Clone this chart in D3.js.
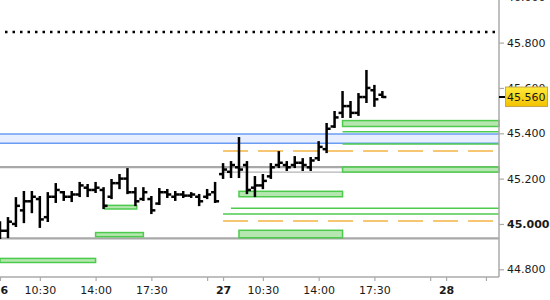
<!DOCTYPE html>
<html lang="en">
<head>
    <meta charset="UTF-8">
    <title>Bar chart with levels</title>
    <script src="https://cdn.jsdelivr.net/npm/d3@7/dist/d3.min.js"></script>
    <style>
        body{
            margin: 0;
            background: #fff;
            font-family: "DejaVu Sans", sans-serif;
        }
        svg{
            display: block;
        }
        .bar{
            stroke: #000;
            stroke-width: 2.5px;
        }
        .axis-line{
            stroke: #aaa;
            stroke-width: 1.5px;
        }
        .tick-label{
            font-size: 11px;
            fill: #1a1a1a;
        }
        .greenzone{
            fill: #b6e7b0;
            stroke: #4ccb4c;
            stroke-width: 1.5px;
        }
        .greenline{
            stroke: #4ccb4c;
            stroke-width: 1.5px;
        }
        .orangeline{
            stroke: #f4b446;
            stroke-width: 1.5px;
            stroke-dasharray: 25,10;
        }
    </style>
</head>

<body>
    <script>
        // step 1 the data
        const barTime = [
            "26 08:00","26 08:30","26 09:00","26 09:30","26 10:00","26 10:30","26 11:00",
            "26 11:30","26 12:00","26 12:30","26 13:00","26 13:30","26 14:00","26 14:30",
            "26 15:00","26 15:30","26 16:00","26 16:30","26 17:00","26 17:30","26 18:00",
            "26 18:30","26 19:00","26 19:30","26 20:00","26 20:30","26 21:00","26 21:30",
            "27 08:00","27 08:30","27 09:00","27 09:30","27 10:00","27 10:30","27 11:00",
            "27 11:30","27 12:00","27 12:30","27 13:00","27 13:30","27 14:00","27 14:30",
            "27 15:00","27 15:30","27 16:00","27 16:30","27 17:00","27 17:30","27 18:00"
        ];
        const barOpen = [
            44.990, 44.970, 45.000, 45.060, 45.100, 45.110, 45.030,
            45.120, 45.140, 45.120, 45.130, 45.160, 45.150, 45.150,
            45.120, 45.180, 45.200, 45.140, 45.110, 45.110, 45.090,
            45.140, 45.120, 45.130, 45.125, 45.120, 45.120, 45.140,
            45.220, 45.230, 45.250, 45.260, 45.160, 45.170, 45.210,
            45.260, 45.260, 45.260, 45.270, 45.250, 45.290, 45.330,
            45.430, 45.490, 45.520, 45.490, 45.560, 45.590, 45.570
        ];
        const barHigh = [
            45.008, 45.026, 45.114, 45.141, 45.141, 45.119, 45.136,
            45.176, 45.141, 45.141, 45.181, 45.172, 45.181, 45.158,
            45.194, 45.216, 45.242, 45.158, 45.158, 45.119, 45.154,
            45.150, 45.141, 45.141, 45.136, 45.128, 45.150, 45.181,
            45.264, 45.273, 45.379, 45.273, 45.207, 45.216, 45.264,
            45.317, 45.273, 45.295, 45.286, 45.291, 45.361, 45.441,
            45.494, 45.582, 45.538, 45.573, 45.675, 45.609, 45.582
        ];
        const barLow = [
            44.938, 44.942, 44.991, 45.008, 45.052, 44.987, 45.013,
            45.097, 45.106, 45.101, 45.123, 45.123, 45.141, 45.070,
            45.114, 45.158, 45.136, 45.083, 45.106, 45.048, 45.088,
            45.119, 45.106, 45.119, 45.119, 45.083, 45.114, 45.097,
            45.203, 45.207, 45.207, 45.136, 45.123, 45.158, 45.203,
            45.251, 45.238, 45.251, 45.238, 45.238, 45.282, 45.317,
            45.428, 45.472, 45.472, 45.481, 45.538, 45.521, 45.560
        ];
        const barClose = [
            44.970, 45.010, 45.080, 45.100, 45.120, 45.020, 45.120,
            45.150, 45.120, 45.130, 45.170, 45.150, 45.160, 45.080,
            45.180, 45.200, 45.140, 45.100, 45.140, 45.060, 45.140,
            45.130, 45.130, 45.125, 45.130, 45.100, 45.130, 45.100,
            45.240, 45.260, 45.240, 45.150, 45.170, 45.190, 45.250,
            45.270, 45.250, 45.270, 45.260, 45.280, 45.340, 45.420,
            45.470, 45.520, 45.490, 45.560, 45.600, 45.550, 45.560
        ];

        const lastPrice = 45.560;
        const targetLevel = 45.847;
        const blueZone = [45.356, 45.397];
        const grayLevels = [
            {value: 45.251, from: "26 08:00", weight: "main"},
            {value: 44.936, from: "26 08:00", weight: "main"},
            {value: 45.229, from: "27 08:00", weight: "thin"}
        ];
        const orangeLevels = [
            {value: 45.322, from: "27 08:00"},
            {value: 45.013, from: "27 08:00"}
        ];
        const greenLevels = [
            {value: 45.069, from: "27 08:30"},
            {value: 45.044, from: "27 08:00"},
            {value: 45.407, from: "27 15:30"},
            {value: 45.353, from: "27 15:30"}
        ];
        const greenZones = [
            {lo: 44.830, hi: 44.848, from: "26 08:00", to: "26 14:00"},
            {lo: 44.944, hi: 44.962, from: "26 14:00", to: "26 17:00"},
            {lo: 45.066, hi: 45.082, from: "26 14:35", to: "26 16:35"},
            {lo: 45.120, hi: 45.144, from: "27 09:00", to: "27 15:30"},
            {lo: 44.939, hi: 44.972, from: "27 09:00", to: "27 15:30"},
            {lo: 45.229, hi: 45.251, from: "27 15:30", to: null},
            {lo: 45.430, hi: 45.456, from: "27 15:30", to: null}
        ];

        const yTicks = [44.8, 45.0, 45.2, 45.4, 45.6, 45.8, 46.0];
        const yBoldTick = 45.0;
        const xTickTime = ["26 08:00","26 10:30","26 14:00","26 17:30","26 21:00",
                           "27 08:00","27 10:30","27 14:00","27 17:30","27 21:00",
                           "28 08:00","28 10:30"];
        const xTickLabel = ["26","10:30","14:00","17:30","",
                            "27","10:30","14:00","17:30","",
                            "28",""];

        // sessions run 08:00 - 22:00, nights are skipped
        const firstDay = 26, sessionStart = 8, sessionHours = 14;
        function sessionTime(s){
            let [day, hm] = s.split(" ");
            let [h, m] = hm.split(":").map(Number);
            return (Number(day) - firstDay)*sessionHours + (h - sessionStart) + m/60;
        }

        // step 2 svg element
        const width = 550, height = 300;
        const plot = {left: 0, right: 499, top: 0, bottom: 277};

        let svg = d3.select("body").append("svg")
            .attr("width", width)
            .attr("height", height)
            .attr("viewBox", `0 0 ${width} ${height}`);

        // step 3 scales
        let xScale = d3.scaleLinear()
            .domain([0, 31.32])
            .range([plot.left, plot.right]);
        let yScale = d3.scaleLinear()
            .domain([44.766, 45.988])
            .range([plot.bottom, plot.top]);

        const xEnd = d => d == null ? plot.right : xScale(sessionTime(d));

        // step 4 level lines and zones
        svg.append("rect")
            .attr("x", plot.left)
            .attr("width", plot.right - plot.left)
            .attr("y", yScale(blueZone[1]))
            .attr("height", yScale(blueZone[0]) - yScale(blueZone[1]))
            .attr("fill", "#e6eeff");
        svg.selectAll(".blueline")
            .data(blueZone)
            .enter()
            .append("line")
            .attr("class", "blueline")
            .attr("x1", plot.left).attr("x2", plot.right)
            .attr("y1", d => yScale(d)).attr("y2", d => yScale(d))
            .attr("stroke", "#6b9cf3")
            .attr("stroke-width", 1.5);

        svg.append("line")
            .attr("x1", plot.left).attr("x2", plot.right)
            .attr("y1", yScale(targetLevel)).attr("y2", yScale(targetLevel))
            .attr("stroke", "#000")
            .attr("stroke-width", 2.5)
            .attr("stroke-dasharray", "2.5,5")
            .attr("stroke-dashoffset", -5);

        svg.selectAll(".grayline")
            .data(grayLevels)
            .enter()
            .append("line")
            .attr("class", "grayline")
            .attr("x1", d => xEnd(d.from)).attr("x2", plot.right)
            .attr("y1", d => yScale(d.value)).attr("y2", d => yScale(d.value))
            .attr("stroke", d => d.weight == "main" ? "#a8a8a8" : "#b4b4b4")
            .attr("stroke-width", d => d.weight == "main" ? 2.2 : 1.2);

        svg.selectAll(".orangeline")
            .data(orangeLevels)
            .enter()
            .append("line")
            .attr("class", "orangeline")
            .attr("x1", d => xEnd(d.from)).attr("x2", plot.right)
            .attr("y1", d => yScale(d.value)).attr("y2", d => yScale(d.value));

        svg.selectAll(".greenline")
            .data(greenLevels)
            .enter()
            .append("line")
            .attr("class", "greenline")
            .attr("x1", d => xEnd(d.from)).attr("x2", plot.right)
            .attr("y1", d => yScale(d.value)).attr("y2", d => yScale(d.value));

        svg.selectAll(".greenzone")
            .data(greenZones)
            .enter()
            .append("rect")
            .attr("class", "greenzone")
            .attr("x", d => xEnd(d.from))
            .attr("width", d => xEnd(d.to) - xEnd(d.from))
            .attr("y", d => yScale(d.hi))
            .attr("height", d => yScale(d.lo) - yScale(d.hi));

        // step 5 OHLC bars
        let bars = svg.append("g").selectAll("g")
            .data(barTime.map((t, i) => ({
                x: xScale(sessionTime(t)),
                o: barOpen[i], h: barHigh[i], l: barLow[i], c: barClose[i]
            })))
            .enter()
            .append("g");

        bars.append("line")
            .attr("class", "bar")
            .attr("x1", d => d.x).attr("x2", d => d.x)
            .attr("y1", d => yScale(d.h) - 1).attr("y2", d => yScale(d.l) + 1);
        bars.append("line")
            .attr("class", "bar")
            .attr("x1", d => d.x - 4).attr("x2", d => d.x)
            .attr("y1", d => yScale(d.o)).attr("y2", d => yScale(d.o));
        bars.append("line")
            .attr("class", "bar")
            .attr("x1", d => d.x).attr("x2", d => d.x + 4)
            .attr("y1", d => yScale(d.c)).attr("y2", d => yScale(d.c));

        // step 6 axes
        const xAxis = d3.axisBottom(xScale)
            .tickValues(xTickTime.map(sessionTime))
            .tickFormat((d, i) => xTickLabel[i])
            .tickSize(4)
            .tickSizeOuter(0);
        let gx = svg.append("g")
            .attr("transform", `translate(0, ${plot.bottom})`)
            .call(xAxis);
        gx.select(".domain").attr("class", "domain axis-line")
            .attr("d", `M${plot.left},0H${plot.right}`);
        gx.selectAll(".tick line").attr("stroke", "#aaa").attr("stroke-width", 1.2);
        gx.selectAll(".tick text")
            .attr("class", "tick-label")
            .attr("y", 9)
            .attr("font-family", "DejaVu Sans")
            .style("font-weight", (d, i) => /^\d+$/.test(xTickLabel[i]) ? "bold" : "normal");

        const yAxis = d3.axisRight(yScale)
            .tickValues(yTicks)
            .tickFormat(d3.format(".3f"))
            .tickSize(5)
            .tickPadding(3)
            .tickSizeOuter(0);
        let gy = svg.append("g")
            .attr("transform", `translate(${plot.right}, 0)`)
            .call(yAxis);
        gy.select(".domain").attr("class", "domain axis-line")
            .attr("d", `M0,${plot.top}V${plot.bottom}`);
        gy.selectAll(".tick line").attr("stroke", "#aaa").attr("stroke-width", 1.2);
        gy.selectAll(".tick text")
            .attr("class", "tick-label")
            .attr("font-family", "DejaVu Sans")
            .style("font-weight", d => d == yBoldTick ? "bold" : "normal");

        // step 7 last price marker
        let yl = yScale(lastPrice);
        let defs = svg.append("defs");
        let grad = defs.append("linearGradient")
            .attr("id", "gold").attr("x1", 0).attr("x2", 0).attr("y1", 0).attr("y2", 1);
        grad.append("stop").attr("offset", "0%").attr("stop-color", "#ffea3a");
        grad.append("stop").attr("offset", "100%").attr("stop-color", "#f2c200");

        svg.append("line")
            .attr("x1", plot.right).attr("x2", plot.right + 6)
            .attr("y1", yl).attr("y2", yl)
            .attr("stroke", "#000").attr("stroke-width", 2);
        svg.append("rect")
            .attr("x", plot.right + 6.5)
            .attr("y", yl - 10)
            .attr("width", 42)
            .attr("height", 19.5)
            .attr("fill", "url(#gold)")
            .attr("stroke", "#c8a64a")
            .attr("stroke-width", 1);
        svg.append("text")
            .attr("class", "tick-label")
            .attr("x", plot.right + 8)
            .attr("y", yl)
            .attr("dy", "0.35em")
            .attr("fill", "#000")
            .text(d3.format(".3f")(lastPrice));
    </script>
</body>
</html>
